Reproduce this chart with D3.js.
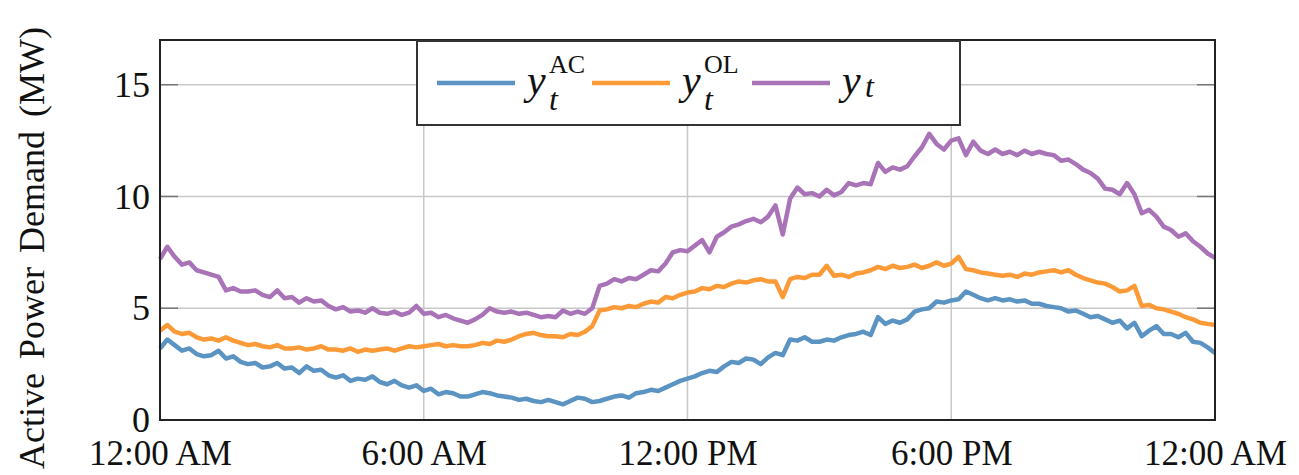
<!DOCTYPE html>
<html>
<head>
<meta charset="utf-8">
<script src="https://cdn.jsdelivr.net/npm/d3@7"></script>
<style>
	body { margin: 0; background: #fff; }
	svg { display: block; }
	text { font-family: "Liberation Serif", "DejaVu Serif", serif; fill: #111; }
</style>
</head>
<body>
<svg id="chart" width="1299" height="475"></svg>
<script>
// values every 10 minutes, 00:00 .. 24:00
const acValues = [
	3.2, 3.6, 3.35, 3.1, 3.2, 2.95,
	2.85, 2.9, 3.1, 2.75, 2.85, 2.6,
	2.5, 2.55, 2.35, 2.4, 2.55, 2.3,
	2.35, 2.1, 2.4, 2.2, 2.25, 2.0,
	1.9, 2.0, 1.75, 1.85, 1.8, 1.95,
	1.7, 1.6, 1.75, 1.55, 1.45, 1.55,
	1.3, 1.4, 1.15, 1.25, 1.2, 1.05,
	1.05, 1.15, 1.25, 1.2, 1.1, 1.05,
	1.0, 0.9, 0.95, 0.85, 0.8, 0.9,
	0.8, 0.7, 0.85, 1.0, 0.95, 0.8,
	0.85, 0.95, 1.05, 1.1, 1.0, 1.2,
	1.25, 1.35, 1.3, 1.45, 1.6, 1.75,
	1.85, 1.95, 2.1, 2.2, 2.15, 2.4,
	2.6, 2.55, 2.75, 2.7, 2.5, 2.8,
	3.0, 2.9, 3.6, 3.55, 3.7, 3.5,
	3.5, 3.6, 3.55, 3.7, 3.8, 3.85,
	3.95, 3.8, 4.6, 4.3, 4.45, 4.35,
	4.5, 4.85, 4.95, 5.0, 5.3, 5.25,
	5.35, 5.4, 5.75, 5.6, 5.45, 5.35,
	5.45, 5.35, 5.4, 5.3, 5.35, 5.2,
	5.2, 5.1, 5.05, 5.0, 4.85, 4.9,
	4.75, 4.6, 4.65, 4.5, 4.35, 4.45,
	4.1, 4.35, 3.75, 4.0, 4.2, 3.85,
	3.85, 3.7, 3.9, 3.5, 3.45, 3.25,
	3.0
];
const olValues = [
	4.0, 4.25, 3.95, 3.85, 3.9, 3.7,
	3.6, 3.65, 3.55, 3.7, 3.55, 3.45,
	3.35, 3.4, 3.3, 3.25, 3.35, 3.2,
	3.2, 3.25, 3.15, 3.2, 3.3, 3.15,
	3.15, 3.1, 3.2, 3.05, 3.15, 3.1,
	3.15, 3.2, 3.1, 3.2, 3.3, 3.25,
	3.3, 3.35, 3.4, 3.3, 3.35, 3.3,
	3.3, 3.35, 3.45, 3.4, 3.55, 3.5,
	3.6, 3.75, 3.85, 3.9, 3.8, 3.75,
	3.75, 3.7, 3.85, 3.8, 3.95, 4.2,
	4.9, 4.95, 5.05, 5.0, 5.1, 5.05,
	5.2, 5.3, 5.25, 5.5, 5.45, 5.6,
	5.7, 5.75, 5.9, 5.85, 6.0, 5.95,
	6.1, 6.2, 6.15, 6.25, 6.3, 6.2,
	6.2, 5.5, 6.3, 6.4, 6.35, 6.5,
	6.5, 6.9, 6.45, 6.5, 6.4, 6.55,
	6.6, 6.7, 6.85, 6.75, 6.9, 6.8,
	6.85, 6.95, 6.8, 6.9, 7.05, 6.9,
	7.0, 7.3, 6.75, 6.7, 6.6, 6.55,
	6.5, 6.45, 6.5, 6.4, 6.55, 6.5,
	6.6, 6.65, 6.7, 6.6, 6.7, 6.5,
	6.35, 6.25, 6.15, 6.1, 5.95, 5.75,
	5.8, 6.0, 5.1, 5.15, 5.0, 4.95,
	4.85, 4.75, 4.6, 4.5, 4.35, 4.3,
	4.25
];
const yValues = [
	7.2, 7.75, 7.3, 6.95, 7.05, 6.7,
	6.6, 6.5, 6.4, 5.8, 5.9, 5.75,
	5.75, 5.8, 5.6, 5.5, 5.8, 5.45,
	5.5, 5.25, 5.45, 5.3, 5.35, 5.1,
	4.95, 5.05, 4.85, 4.9, 4.8, 5.0,
	4.8, 4.75, 4.85, 4.7, 4.8, 5.1,
	4.75, 4.8, 4.6, 4.7, 4.55, 4.45,
	4.35, 4.5, 4.7, 5.0, 4.85, 4.8,
	4.85, 4.75, 4.8, 4.7, 4.6, 4.65,
	4.6, 4.9, 4.75, 4.85, 4.75, 5.0,
	6.0, 6.1, 6.3, 6.2, 6.35, 6.3,
	6.5, 6.7, 6.65, 7.0, 7.5, 7.6,
	7.55, 7.8, 8.05, 7.5, 8.2, 8.4,
	8.65, 8.75, 8.9, 9.0, 8.85, 9.1,
	9.6, 8.3, 9.9, 10.4, 10.1, 10.15,
	10.0, 10.3, 10.05, 10.2, 10.6, 10.5,
	10.6, 10.55, 11.5, 11.1, 11.3, 11.2,
	11.35, 11.8, 12.2, 12.8, 12.35, 12.1,
	12.5, 12.6, 11.85, 12.45, 12.05, 11.9,
	12.1, 11.9, 12.0, 11.85, 12.05, 11.9,
	12.0, 11.9, 11.85, 11.6, 11.65, 11.45,
	11.2, 11.05, 10.8, 10.35, 10.3, 10.1,
	10.6, 10.1, 9.25, 9.4, 9.1, 8.65,
	8.5, 8.2, 8.35, 8.0, 7.75, 7.45,
	7.25
];
const seriesNames = ['AC', 'OL', ''];
const seriesColours = ['#5b93c3', '#fd9a38', '#a973b7'];
const yTicks = [0, 5, 10, 15];
const stepMinutes = 10;

const width = 1299, height = 475;
const margin = {top: 40, right: 84, bottom: 55, left: 160};
const serif = '"Liberation Serif", "DejaVu Serif", serif';
const svg = d3.select('#chart');

const day0 = new Date(2000, 0, 1, 0, 0);
const day1 = new Date(2000, 0, 2, 0, 0);
const timeAt = i => new Date(day0.getTime() + i * stepMinutes * 60000);

const x = d3.scaleTime().domain([day0, day1]).range([margin.left, width - margin.right]);
const y = d3.scaleLinear().domain([0, 17]).range([height - margin.bottom, margin.top]);

// grid
svg.append('g')
	.selectAll('line')
	.data(x.ticks(d3.timeHour.every(6)))
	.enter().append('line')
		.attr('x1', d => x(d)).attr('x2', d => x(d))
		.attr('y1', y(0)).attr('y2', y(17))
		.attr('stroke', '#c8c8c8').attr('stroke-width', 1.5);
svg.append('g')
	.selectAll('line')
	.data(yTicks)
	.enter().append('line')
		.attr('x1', x.range()[0]).attr('x2', x.range()[1])
		.attr('y1', d => y(d)).attr('y2', d => y(d))
		.attr('stroke', '#c8c8c8').attr('stroke-width', 1.5);

// inner ticks left and right
svg.append('g').selectAll('line').data(yTicks).enter().append('line')
	.attr('x1', x.range()[0]).attr('x2', x.range()[0] + 18)
	.attr('y1', d => y(d)).attr('y2', d => y(d))
	.attr('stroke', '#777').attr('stroke-width', 1.5);
svg.append('g').selectAll('line').data(yTicks).enter().append('line')
	.attr('x1', x.range()[1] - 18).attr('x2', x.range()[1])
	.attr('y1', d => y(d)).attr('y2', d => y(d))
	.attr('stroke', '#777').attr('stroke-width', 1.5);

// lines
const line = d3.line()
	.x((d, i) => x(timeAt(i)))
	.y(d => y(d));

[acValues, olValues, yValues].forEach((vals, k) => {
	svg.append('path')
		.datum(vals)
		.attr('fill', 'none')
		.attr('stroke', seriesColours[k])
		.attr('stroke-width', 4.5)
		.attr('stroke-linejoin', 'round')
		.attr('d', line);
});

// frame
svg.append('rect')
	.attr('x', margin.left).attr('y', margin.top)
	.attr('width', width - margin.left - margin.right)
	.attr('height', height - margin.top - margin.bottom)
	.attr('fill', 'none').attr('stroke', '#222').attr('stroke-width', 2);

// axes
const xAxis = svg.append('g')
	.attr('transform', `translate(0,${height - margin.bottom})`)
	.call(d3.axisBottom(x).ticks(d3.timeHour.every(6)).tickSize(0).tickPadding(20)
		.tickFormat(d3.timeFormat('%-I:%M %p')));
xAxis.select('.domain').remove();
xAxis.selectAll('text').attr('font-size', 35).attr('font-family', serif).attr('fill', '#111');

const yAxis = svg.append('g')
	.attr('transform', `translate(${margin.left},0)`)
	.call(d3.axisLeft(y).tickValues(yTicks).tickSize(0).tickPadding(10));
yAxis.select('.domain').remove();
yAxis.selectAll('text').attr('font-size', 36).attr('font-family', serif).attr('fill', '#111');

svg.append('text')
	.attr('transform', `translate(44,248) rotate(-90)`)
	.attr('text-anchor', 'middle')
	.attr('font-family', serif)
	.attr('font-size', 36)
	.attr('word-spacing', 5)
	.text('Active Power Demand (MW)');

// legend
const legend = svg.append('g');
legend.append('rect')
	.attr('x', 417).attr('y', 41).attr('width', 543).attr('height', 84)
	.attr('fill', '#fff').attr('stroke', '#333').attr('stroke-width', 2);

const legendX = [437, 592, 752];
seriesNames.forEach((name, k) => {
	legend.append('line')
		.attr('x1', legendX[k]).attr('x2', legendX[k] + 78)
		.attr('y1', 83).attr('y2', 83)
		.attr('stroke', seriesColours[k]).attr('stroke-width', 4.5);
	legend.append('text')
		.attr('x', legendX[k] + 90).attr('y', 94)
		.attr('font-family', serif).attr('font-style', 'italic')
		.attr('font-size', 42).text('y');
	if (name) {
		const sx = legendX[k] + 112;
		legend.append('text').attr('x', sx).attr('y', 110)
			.attr('font-family', serif).attr('font-style', 'italic')
			.attr('font-size', 32).text('t');
		legend.append('text').attr('x', sx).attr('y', 73)
			.attr('font-family', serif)
			.attr('font-size', 26).text(name);
	} else {
		legend.append('text').attr('x', legendX[k] + 113).attr('y', 97)
			.attr('font-family', serif).attr('font-style', 'italic')
			.attr('font-size', 32).text('t');
	}
});
</script>
</body>
</html>
